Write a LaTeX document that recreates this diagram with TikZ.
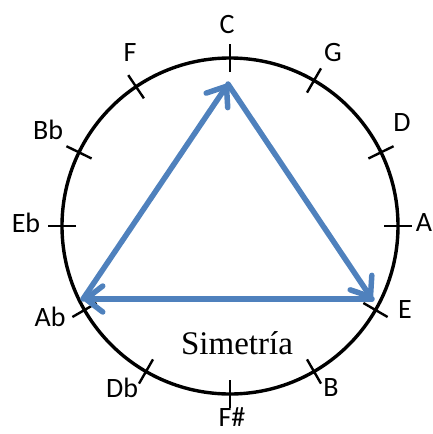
\documentclass[tikz,border=0pt]{standalone}
\usepackage{fontspec}
\setmainfont{Liberation Serif}
\newfontfamily\labfont{Carlito}
\usetikzlibrary{arrows.meta,calc}
\definecolor{triblue}{RGB}{79,129,189}
\begin{document}
\begin{tikzpicture}[x=1pt,y=-1pt,
  ring/.style={draw=black,line width=3.4pt},
  tickmark/.style={draw=black,line width=2.4pt},
  notelab/.style={font=\labfont\fontsize{28}{30}\selectfont,inner sep=0pt},
  tri/.style={draw=triblue,line width=5.5pt,line cap=round,line join=round,
    -{Straight Barb[length=17pt,width=26pt,line cap=round,line join=round]}}]
\useasboundingbox (0,0) rectangle (432,434);
\coordinate (O) at (230,226);
\draw[ring] (O) circle[radius=168];
% ticks
\foreach \nm/\ang in {C/90,G/60,D/30,A/0,E/-26,B/-60,Fs/-90,Db/-124,Ab/-154,Eb/180,Bb/150,F/120}{
  \coordinate (p\nm) at ($(O)+(\ang:168)$);
}
\foreach \nm/\ang in {C/90,G/60,D/30,A/0,E/-26,B/-60,Fs/-90,Db/-124,Ab/-154,Eb/180,Bb/150,F/120}{
  \draw[tickmark] ($(O)+(\ang:154)$) -- ($(O)+(\ang:182)$);
}
% labels
\node[notelab] (lC) at (227,25) {C};
\node[notelab] (lG) at (333,53) {G};
\node[notelab] (lD) at (402,123) {D};
\node[notelab] (lA) at (424,223) {A};
\node[notelab] (lE) at (405,310) {E};
\node[notelab] (lB) at (331,388) {B};
\node[notelab] (lFs) at (232,417) {F\#};
\node[notelab] (lDb) at (122,388) {Db};
\node[notelab] (lAb) at (50,317) {Ab};
\node[notelab] (lEb) at (26,223) {Eb};
\node[notelab] (lBb) at (48,130) {Bb};
\node[notelab] (lF) at (130,53) {F};
\node[font=\fontsize{33}{35}\selectfont,inner sep=0pt] (sim) at (237,343) {Simetría};
% triangle
\coordinate (tC) at (228,84);
\coordinate (tE) at (372,299);
\coordinate (tAb) at (83,299);
\draw[tri] (tAb) -- (tC);
\draw[tri] (tC) -- (tE);
\draw[tri] (tE) -- (tAb);
\end{tikzpicture}
\end{document}
